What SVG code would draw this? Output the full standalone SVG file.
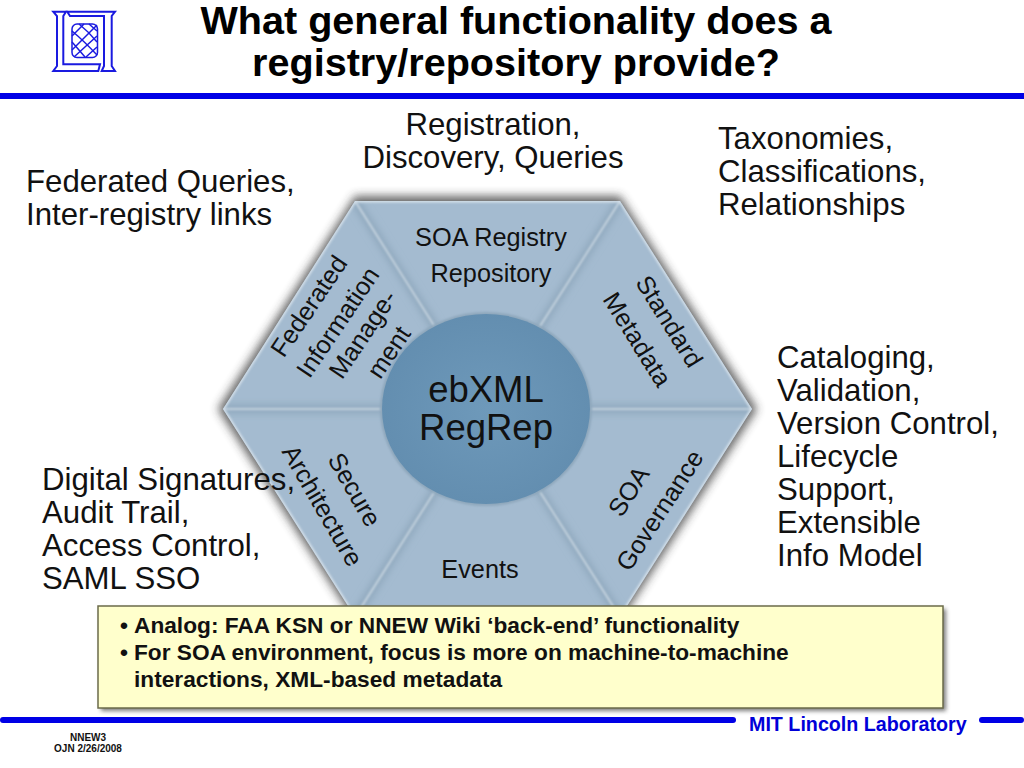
<svg xmlns="http://www.w3.org/2000/svg" width="1024" height="768" viewBox="0 0 1024 768">
<style>
text{font-family:"Liberation Sans",Arial,sans-serif;fill:#111}
.title{font-size:39.6px;font-weight:700;text-anchor:middle;fill:#000}
.lab{font-size:31.2px}
.seg{font-size:25.3px;text-anchor:middle}
.note{font-size:22.7px;font-weight:700}
.foot{font-size:10px;font-weight:700;text-anchor:middle}
.bar{fill:#0000e6}
.logo{fill:none;stroke:#1a1ae0;stroke-width:2}
.lat{fill:none;stroke:#1a1ae0;stroke-width:1.5}
.dk{stroke:#90a9be;stroke-width:9;fill:none;filter:url(#b3)}
.lt{stroke:#d5e0e9;stroke-width:1.4;fill:none;filter:url(#b1)}
</style>
<defs>
<filter id="shadow" x="-20%" y="-20%" width="140%" height="140%"><feGaussianBlur stdDeviation="5"/></filter>
<filter id="b3" x="-20%" y="-20%" width="140%" height="140%"><feGaussianBlur stdDeviation="3.5"/></filter>
<filter id="b1" x="-20%" y="-20%" width="140%" height="140%"><feGaussianBlur stdDeviation="0.8"/></filter>
<filter id="boxs" x="-5%" y="-10%" width="110%" height="120%"><feGaussianBlur stdDeviation="2"/></filter>
<radialGradient id="hub" cx="50%" cy="50%" r="60%"><stop offset="0" stop-color="#6e99ba"/><stop offset="1" stop-color="#618cae"/></radialGradient>
<clipPath id="hexclip"><polygon points="355,201 620,201 752,409 620,617 355,617 223,409"/></clipPath>
</defs>

<g id="title">
<text class="title" x="516" y="34">What general functionality does a</text>
<text class="title" x="516" y="76">registry/repository provide?</text>
</g>
<g id="logo">
<path class="logo" d="M53.3 11.7H66L63.3 16V64.3H100L98.3 71H53.3L57 66V16Z"/>
<path class="logo" d="M67.3 11.7H115L111.7 16V66L115 71H101.7L104 66V16H70Z"/>
<rect class="lat" x="72" y="24" width="25.5" height="33.5" rx="5"/>
<path class="lat" d="M72 31Q84 41 97 55M72 42Q79 50 85 57M79 24Q89 32 97 42M89 24L97 31M72 50Q84 38 97 25M74 57Q86 46 97 36M86 57L97 47M72 36Q78 30 84 24"/>
</g>
<rect id="top-rule" class="bar" x="0" y="93" width="1024" height="6"/>

<g id="hexagon">
<polygon points="355,196 620,196 757,409 620,622 355,622 218,409" fill="#333" opacity=".75" filter="url(#shadow)"/>
<polygon points="355,201 620,201 752,409 620,617 355,617 223,409" fill="#a4bbd0"/>
<g clip-path="url(#hexclip)">
<path d="M355 201L487 409L620 201M223 409H752M355 617L487 409L620 617" class="dk"/>
<path d="M355 201H620L752 409L620 617H355L223 409Z" stroke="#d6e1ea" stroke-width="3" fill="none" filter="url(#b1)"/>
<path d="M355 201L487 409L620 201M223 409H752M355 617L487 409L620 617" class="lt"/>
</g>
</g>

<g id="hub">
<ellipse cx="486" cy="409" rx="106" ry="97" fill="#8ea7bc" filter="url(#b1)"/>
<ellipse cx="486" cy="409" rx="104" ry="95" fill="url(#hub)"/>
<text x="486" y="402" font-size="36.5" text-anchor="middle">ebXML</text>
<text x="486" y="440" font-size="36.5" text-anchor="middle">RegRep</text>
</g>

<g id="seg-registry"><text class="seg" x="491" y="246">SOA Registry</text><text class="seg" x="491" y="282">Repository</text></g>
<g id="seg-federated">
<text class="seg" transform="translate(316 311) rotate(-56)">Federated</text>
<text class="seg" transform="translate(345 327) rotate(-56)">Information</text>
<text class="seg" transform="translate(370 339) rotate(-56)">Manage-</text>
<text class="seg" transform="translate(396 357) rotate(-56)">ment</text>
</g>
<g id="seg-metadata">
<text class="seg" transform="translate(662 326) rotate(58)">Standard</text>
<text class="seg" transform="translate(630 344) rotate(58)">Metadata</text>
</g>
<g id="seg-governance">
<text class="seg" transform="translate(636 496) rotate(-57)">SOA</text>
<text class="seg" transform="translate(667 515) rotate(-57)">Governance</text>
</g>
<g id="seg-secure">
<text class="seg" transform="translate(347 494) rotate(60)">Secure</text>
<text class="seg" transform="translate(315 510) rotate(60)">Architecture</text>
</g>
<g id="seg-events"><text class="seg" x="480" y="578">Events</text></g>

<g id="label-registration"><text class="lab" x="493" y="135" text-anchor="middle">Registration,</text><text class="lab" x="493" y="168" text-anchor="middle">Discovery, Queries</text></g>
<g id="label-taxonomies"><text class="lab" x="718" y="149">Taxonomies,</text><text class="lab" x="718" y="182">Classifications,</text><text class="lab" x="718" y="215">Relationships</text></g>
<g id="label-federated"><text class="lab" x="26" y="192">Federated Queries,</text><text class="lab" x="26" y="225">Inter-registry links</text></g>
<g id="label-cataloging">
<text class="lab" x="777" y="368">Cataloging,</text><text class="lab" x="777" y="401">Validation,</text><text class="lab" x="777" y="434">Version Control,</text><text class="lab" x="777" y="467">Lifecycle</text><text class="lab" x="777" y="500">Support,</text><text class="lab" x="777" y="533">Extensible</text><text class="lab" x="777" y="566">Info Model</text>
</g>
<g id="label-signatures">
<text class="lab" x="42" y="490">Digital Signatures,</text><text class="lab" x="42" y="523">Audit Trail,</text><text class="lab" x="42" y="556">Access Control,</text><text class="lab" x="42" y="589">SAML SSO</text>
</g>

<g id="note">
<rect x="101" y="609" width="845" height="102" fill="#444" opacity=".7" filter="url(#boxs)"/>
<rect x="98" y="606" width="845" height="102" fill="#ffffcc" stroke="#6b6b4a" stroke-width="1.5"/>
<text class="note" x="120" y="633">•</text><text class="note" x="134" y="633">Analog: FAA KSN or NNEW Wiki ‘back-end’ functionality</text>
<text class="note" x="120" y="660">•</text><text class="note" x="134" y="660">For SOA environment, focus is more on machine-to-machine</text>
<text class="note" x="134" y="687">interactions, XML-based metadata</text>
</g>

<g id="footer">
<rect class="bar" x="0" y="717" width="736" height="6" rx="3"/>
<rect class="bar" x="979" y="717" width="45" height="6" rx="3"/>
<text x="749" y="731" font-size="19.7" font-weight="700" style="fill:#0000d8">MIT Lincoln Laboratory</text>
<text class="foot" x="88" y="741">NNEW3</text>
<text class="foot" x="88" y="752">OJN 2/26/2008</text>
</g>
</svg>
